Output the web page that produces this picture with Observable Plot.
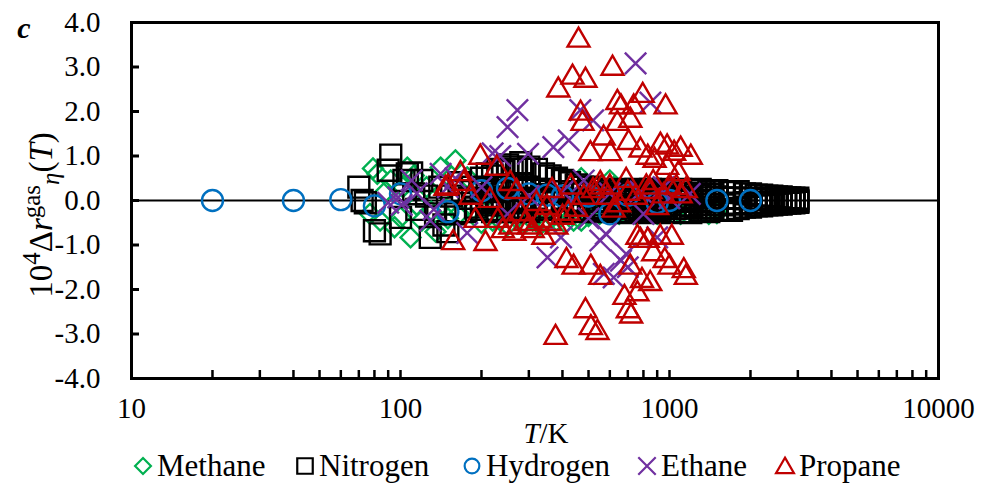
<!DOCTYPE html>
<html><head><meta charset="utf-8">
<script src="https://cdn.jsdelivr.net/npm/d3@7"></script>
<script src="https://cdn.jsdelivr.net/npm/@observablehq/plot@0.6"></script>
<style>
body{margin:0;background:#fff;}
#wrap{position:relative;width:982px;height:497px;font-family:"Liberation Serif","Times New Roman",serif;color:#000;}
</style></head><body>
<div id="wrap"><div id="chart"></div><div id="legend"></div></div>
<script>
// ---- data: [T in K, 10^4 Δr value] ----
const methane = [[77,-0.3],[79,0.72],[82,0.6],[84,-0.45],[88,0.2],[92,0.45],[95,-0.6],[100,-0.38],[102,0.3],[106,0.74],[109,-0.83],[112,0.56],[115,-0.1],[120,-0.45],[125,0.3],[130,-0.25],[135,-0.7],[141,0.74],[145,0.2],[150,-0.4],[160,0.9],[165,-0.3],[177,0.52],[185,-0.2],[200,-0.5],[210,0.1],[220,-0.45],[235,-0.45],[250,-0.55],[270,-0.4],[290,-0.5],[310,-0.45],[330,-0.55],[350,-0.5],[380,-0.45],[410,-0.5],[440,-0.45],[470,-0.45],[470,0.5],[500,-0.35],[550,-0.3],[600,0.45],[620,0.3],[650,-0.3],[700,-0.25],[750,-0.3],[800,0.2],[850,-0.25],[900,-0.3],[1000,-0.25],[1100,-0.3],[1200,-0.25],[1400,-0.3],[1500,-0.28]];
const nitrogen = [[70,0.3],[72,0.0],[74,-0.05],[80,-0.68],[84,-0.75],[90,0.68],[92,1.02],[100,-0.38],[103,0.45],[106,0.6],[110,0.62],[112,0.15],[115,-0.2],[120,0.45],[125,0.1],[129,-0.83],[135,-0.3],[140,0.3],[145,-0.55],[150,-0.7],[155,0.1],[160,-0.3],[165,0.4],[170,0.2],[175,-0.25],[180,0.05],[185,0.3],[190,-0.15],
[200,0.5],[210,0.6],[220,0.55],[230,0.7],[240,0.65],[250,0.8],[260,0.75],[270,0.7],[280,0.85],[290,0.7],[300,0.75],[320,0.7],[340,0.6],[360,0.55],[380,0.5],[400,0.45],[425,0.4],[450,0.35],[475,0.3],[500,0.3],
[200,0.2],[210,0.25],[220,0.3],[230,0.2],[240,0.3],[250,0.35],[260,0.3],[270,0.25],[280,0.35],[290,0.3],[300,0.3],[320,0.25],[340,0.25],[360,0.2],[380,0.2],[400,0.2],[425,0.15],[450,0.15],[475,0.2],[500,0.15],
[200,0.0],[210,-0.05],[220,0.05],[230,0.0],[240,-0.05],[250,0.05],[260,0.0],[270,0.05],[280,0.0],[290,-0.05],[300,0.0],[320,0.05],[340,0.0],[360,-0.05],[380,0.0],[400,0.05],[425,0.0],[450,-0.05],[475,0.0],[500,0.0],
[200,-0.2],[210,-0.1],[220,-0.25],[230,-0.2],[240,-0.1],[250,-0.2],[260,-0.25],[270,-0.15],[280,-0.2],[290,-0.2],[300,-0.25],[320,-0.2],[340,-0.15],[360,-0.2],[380,-0.2],[400,-0.25],[425,-0.2],[450,-0.2],[475,-0.25],[500,-0.2],
[550,0.25],[600,0.22],[650,0.25],[700,0.2],[750,0.25],[800,0.22],[850,0.25],[900,0.2],[950,0.25],[1000,0.22],[1100,0.25],[1200,0.22],[1300,0.25],[1400,0.2],[1500,0.22],[1600,0.2],[1700,0.18],[1800,0.2],[1900,0.15],[2000,0.15],[2100,0.12],[2200,0.12],[2300,0.1],[2400,0.1],[2500,0.08],[2600,0.08],[2700,0.06],[2800,0.06],[2900,0.05],[3000,0.05],
[525,0.15],[575,0.17],[625,0.14],[675,0.16],[725,0.15],[775,0.17],[825,0.14],[875,0.16],[925,0.15],[975,0.16],[1050,0.15],[1150,0.16],[1250,0.14],[1350,0.15],[1450,0.14],
[550,0.08],[600,0.1],[650,0.05],[700,0.1],[750,0.08],[800,0.05],[850,0.1],[900,0.08],[950,0.05],[1000,0.1],[1100,0.08],[1200,0.05],[1300,0.1],[1400,0.06],[1500,0.08],[1600,0.05],[1700,0.06],[1800,0.05],[1900,0.04],[2000,0.05],[2100,0.03],[2200,0.04],[2300,0.02],[2400,0.03],[2500,0.02],[2600,0.01],[2700,0.02],[2800,0.0],[2900,0.01],[3000,0.0],
[525,-0.02],[575,0.0],[625,-0.03],[675,0.0],[725,-0.02],[775,0.0],[825,-0.03],[875,0.0],[925,-0.02],[975,0.0],[1050,-0.02],[1150,0.0],[1250,-0.02],[1350,0.0],[1450,-0.02],
[550,-0.1],[600,-0.08],[650,-0.12],[700,-0.08],[750,-0.1],[800,-0.12],[850,-0.08],[900,-0.1],[950,-0.12],[1000,-0.08],[1100,-0.1],[1200,-0.12],[1300,-0.08],[1400,-0.1],[1500,-0.08],[1600,-0.1],[1700,-0.06],[1800,-0.08],[1900,-0.05],[2000,-0.06],[2100,-0.05],[2200,-0.04],[2300,-0.05],[2400,-0.03],[2500,-0.04],[2600,-0.03],[2700,-0.02],[2800,-0.03],[2900,-0.02],[3000,-0.02],
[525,-0.17],[575,-0.16],[625,-0.18],[675,-0.17],[725,-0.16],[775,-0.18],[825,-0.17],[875,-0.16],[925,-0.18],[975,-0.17],[1050,-0.18],[1150,-0.17],[1250,-0.16],[1350,-0.17],[1450,-0.16],
[550,-0.25],[600,-0.22],[650,-0.25],[700,-0.27],[750,-0.22],[800,-0.25],[850,-0.27],[900,-0.22],[950,-0.25],[1000,-0.27],[1100,-0.25],[1200,-0.27],[1300,-0.22],[1400,-0.25],[1500,-0.22],[1600,-0.2],[1700,-0.22],[1800,-0.18],[1900,-0.15],[2000,-0.15],[2100,-0.12],[2200,-0.12],[2300,-0.1],[2400,-0.1],[2500,-0.08],[2600,-0.08],[2700,-0.06],[2800,-0.06],[2900,-0.05],[3000,-0.04]];
const hydrogen = [[20,0.0],[40,0.0],[60,0.02],[80,-0.12],[100,0.15],[150,-0.25],[200,0.22],[250,0.27],[300,0.15],[350,0.12],[400,0.1],[500,0.1],[600,-0.3],[700,0.12],[900,-0.05],[1000,0.0],[1500,0.0],[2000,0.0]];
const ethane = [[90,-0.05],[98,0.07],[101,-0.1],[110,0.45],[115,0.16],[129,-0.45],[133,-0.2],[141,0.6],[150,0.3],[160,0.5],[177,-0.73],[200,0.3],[220,1.06],[235,1.0],[250,1.65],[250,-0.3],[272,2.03],[298,1.05],[300,0.1],[352,-1.28],[370,1.2],[395,-0.83],[400,0.2],[422,1.35],[466,2.03],[480,0.45],[500,-0.4],[520,1.8],[553,-0.9],[570,-1.65],[580,-0.75],[600,0.16],[620,-1.73],[660,-1.35],[690,-1.2],[700,-1.5],[748,3.08],[780,0.2],[800,-0.3],[849,2.2],[900,-0.83],[950,0.3],[1000,0.05],[1190,0.15]];
const propane = [[147,0.27],[150,0.3],[157,-0.95],[167,0.6],[172,0.38],[182,0.07],[190,-0.45],[198,0.97],[207,-0.97],[215,0.0],[228,0.72],[230,-0.45],[240,-0.68],[256,0.38],[256,-0.6],[265,-0.74],[270,0.2],[280,-0.3],[290,-0.52],[300,-0.6],[310,-0.68],[320,-0.07],[330,-0.45],[340,-0.83],[350,-0.16],[360,-0.52],[366,0.22],[377,-3.08],[380,-0.6],[386,2.48],[400,-0.38],[414,-1.35],[420,-0.29],[430,0.3],[436,2.77],[440,-1.5],[450,-0.2],[459,3.6],[467,1.96],[475,1.73],[480,0.07],[487,2.7],[487,-2.48],[508,1.05],[510,-1.5],[510,-2.86],[520,0.22],[540,-2.97],[553,0.38],[553,-1.73],[560,0.3],[569,1.4],[590,0.07],[600,0.3],[602,1.05],[614,2.97],[620,-0.22],[640,2.2],[640,1.73],[650,-0.1],[660,2.1],[680,-2.18],[690,0.45],[700,0.16],[700,-2.48],[705,1.3],[715,1.8],[715,-1.5],[720,-2.6],[736,2.1],[750,0.07],[760,-0.83],[760,-2.1],[780,1.13],[780,-0.9],[790,-1.8],[795,2.36],[820,0.3],[830,0.97],[830,-0.9],[848,-1.87],[850,0.2],[870,-1.2],[870,0.4],[880,0.9],[900,-0.16],[924,-0.83],[925,1.24],[950,0.1],[960,-1.35],[967,2.1],[980,1.2],[980,0.74],[1000,0.3],[1000,-1.5],[1020,-0.83],[1040,1.06],[1060,0.29],[1080,0.6],[1100,1.15],[1100,0.1],[1130,-1.58],[1150,-1.73],[1150,0.22],[1200,0.97]];

const seriesNames = ["Methane","Nitrogen","Hydrogen","Ethane","Propane"];
const seriesData = [methane, nitrogen, hydrogen, ethane, propane];
const seriesColors = ["#00B050","#000000","#0070C0","#7030A0","#C00000"];
const seriesSymbols = ["diamond2","square","circle","times","triangle2"];
const seriesR = [9, 11.8, 10.5, 9.8, 10.5];

const yTicks = [-4,-3,-2,-1,0,1,2,3,4];
const xMajor = [10,100,1000,10000];
const xMinor = [20,30,40,50,60,70,80,90,200,300,400,500,600,700,800,900,2000,3000,4000,5000,6000,7000,8000,9000];

const W = 982, H = 445, mL = 131, mR = 44, mT = 22, mB = 67;
const innerW = W - mL - mR, innerH = H - mT - mB;

const marks = [
  Plot.ruleY([0], {stroke: "#000", strokeWidth: 2}),
  Plot.tickY(yTicks, {y: d => d, insetRight: innerW - 8, stroke: "#000", strokeWidth: 3}),
  Plot.tickX(xMajor.concat(xMinor), {x: d => d, insetTop: innerH - 8, stroke: "#000", strokeWidth: 2.5}),
  Plot.axisY(yTicks, {tickSize: 0, tickPadding: 31, tickFormat: d => d.toFixed(1), fontSize: 29, fill: "#000"}),
  Plot.axisX(xMajor, {tickSize: 0, tickPadding: 19, tickFormat: d => String(d), fontSize: 29, fill: "#000"})
];
seriesData.forEach((data, i) => {
  marks.push(Plot.dot(data, {x: d => d[0], y: d => d[1], symbol: seriesSymbols[i], r: seriesR[i],
    stroke: seriesColors[i], strokeWidth: 2.4, fill: "none"}));
});
marks.push(Plot.frame({stroke: "#000", strokeWidth: 3}));

const chart = Plot.plot({
  width: W, height: H,
  marginLeft: mL, marginRight: mR, marginTop: mT, marginBottom: mB,
  style: {fontFamily: '"Liberation Serif","Times New Roman",serif', fontSize: "29px", color: "#000", background: "#fff", overflow: "visible"},
  x: {type: "log", domain: [10, 10000], axis: null},
  y: {domain: [-4, 4], axis: null},
  marks
});
document.getElementById("chart").appendChild(chart);

const svg = d3.select(chart);
// panel letter
svg.append("text").attr("x", 24).attr("y", 38).attr("font-size", 30)
  .attr("font-weight", "bold").attr("font-style", "italic").attr("fill", "#000").text("c");
// x label
const xl = svg.append("text").attr("x", 546).attr("y", 443).attr("text-anchor", "middle").attr("font-size", 29).attr("fill", "#000");
xl.append("tspan").attr("font-style", "italic").text("T");
xl.append("tspan").text("/K");
// y label
const yl = svg.append("text").attr("transform", "translate(52,215) rotate(-90)").attr("text-anchor", "middle").attr("font-size", 33).attr("fill", "#000");
yl.append("tspan").text("10");
yl.append("tspan").attr("font-size", 25).attr("dy", -12).text("4");
yl.append("tspan").attr("dy", 12).text("Δ");
yl.append("tspan").attr("font-style", "italic").text("r");
yl.append("tspan").attr("font-size", 25).attr("dy", -12).text("gas");
yl.append("tspan").attr("font-size", 25).attr("font-style", "italic").attr("dy", 19).text("η");
yl.append("tspan").attr("dy", -7).text("(");
yl.append("tspan").attr("font-style", "italic").text("T");
yl.append("tspan").text(")");

// legend below
const lg = d3.select("#legend").append("svg").attr("width", W).attr("height", 52)
  .style("font-family", '"Liberation Serif","Times New Roman",serif');
const legX = [143, 305, 472, 647, 785];
const legSym = [d3.symbolDiamond2, d3.symbolSquare, d3.symbolCircle, d3.symbolTimes, d3.symbolTriangle2];
const legSize = [160, 240, 170, 200, 230];
seriesNames.forEach((name, i) => {
  lg.append("path").attr("d", d3.symbol(legSym[i], legSize[i])())
    .attr("transform", `translate(${legX[i]},${i === 4 ? 23 : 21})`)
    .attr("fill", "none").attr("stroke", seriesColors[i]).attr("stroke-width", 2.2);
  lg.append("text").attr("x", legX[i] + 14).attr("y", 31).attr("font-size", 31).attr("fill", "#000").text(name);
});
</script>
</body></html>
